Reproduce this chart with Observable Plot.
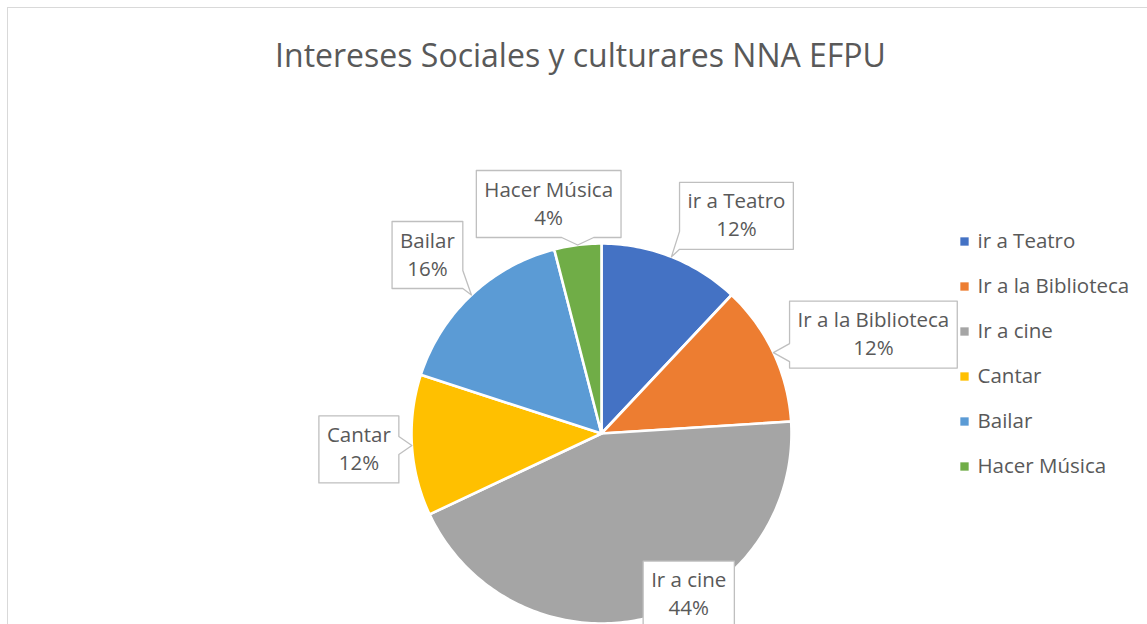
<!DOCTYPE html>
<html><head><meta charset="utf-8">
<script src="https://cdn.jsdelivr.net/npm/d3@7"></script>
<script src="https://cdn.jsdelivr.net/npm/@observablehq/plot@0.6"></script>
<style>
html,body{margin:0;padding:0;background:#fff;overflow:hidden;}
#wrap{position:relative;width:1147px;height:624px;overflow:hidden;}
#frame{position:absolute;left:7px;top:7px;width:1170px;height:650px;border:1.5px solid #d9d9d9;box-sizing:border-box;}
#chart{position:absolute;left:0;top:0;}
</style></head><body>
<div id="wrap"><div id="frame"></div><div id="chart"></div></div>
<script>
// ---- data ----
const categories = ["ir a Teatro", "Ir a la Biblioteca", "Ir a cine", "Cantar", "Bailar", "Hacer Música"];
const values = [12, 12, 44, 12, 16, 4];
const colors = ["#4472C4", "#ED7D31", "#A5A5A5", "#FFC000", "#5B9BD5", "#70AD47"];
const titleText = "Intereses Sociales y culturares NNA EFPU";

// ---- layout ----
const W = 1147, H = 624;
const cx = 601, cy = 433, R = 190;
const font = '"Open Sans", sans-serif';
const labelSize = 20.5, titleSize = 32;
const labelShift = [[65, -41], [100, -18], [40, -23], [-53, 4], [-44, -40], [-29, -41]];
const boxH = 67, pad = 8;
const textColor = "#595959", boxStroke = "#bfbfbf";

const total = d3.sum(values);
const pct = values.map(v => Math.round(v / total * 100) + "%");
const arcs = d3.pie().sort(null).value(d => d)(values);
const pt = (a, r) => [cx + r * Math.sin(a), cy - r * Math.cos(a)];

// slices
const sliceRows = [];
arcs.forEach((a, i) => {
  const name = categories[i];
  sliceRows.push({name, x: cx, y: cy});
  const n = Math.max(2, Math.ceil((a.endAngle - a.startAngle) / (Math.PI / 180)));
  for (let k = 0; k <= n; k++) {
    const ang = a.startAngle + (a.endAngle - a.startAngle) * k / n;
    const [x, y] = pt(ang, R);
    sliceRows.push({name, x, y});
  }
});

// text measuring
const ctx = document.createElement("canvas").getContext("2d");
ctx.font = `${labelSize}px ${font}`;
const tw = s => ctx.measureText(s).width;

// callouts
const calloutRows = [], labelRows = [];
arcs.forEach((a, i) => {
  const mid = (a.startAngle + a.endAngle) / 2;
  const [tx, ty] = pt(mid, R);
  const bx = tx + labelShift[i][0], by = ty + labelShift[i][1];
  const bw = Math.max(tw(categories[i]), tw(pct[i])) + 2 * pad;
  const l = bx - bw / 2, r = bx + bw / 2, t = by - boxH / 2, b = by + boxH / 2;
  const ox = tx > r ? tx - r : tx < l ? l - tx : 0;
  const oy = ty > b ? ty - b : ty < t ? t - ty : 0;
  let side = "none";
  if (ox > 0 || oy > 0) {
    if (oy > ox) side = ty > b ? "bottom" : "top";
    else side = tx > r ? "right" : "left";
  }
  const LH = 32, LV = 18;
  const clamp = (v, lo, hi) => Math.max(lo, Math.min(hi, v));
  const pts = [[l, t]];
  if (side === "top") { const c = clamp(tx, l + LH, r - LH); pts.push([c - LH / 2, t], [tx, ty], [c + LH / 2, t]); }
  pts.push([r, t]);
  if (side === "right") { const c = clamp(ty, t + LV / 2, b - LV / 2); pts.push([r, c - LV / 2], [tx, ty], [r, c + LV / 2]); }
  pts.push([r, b]);
  if (side === "bottom") { const c = clamp(tx, l + LH, r - LH); pts.push([c + LH / 2, b], [tx, ty], [c - LH / 2, b]); }
  pts.push([l, b]);
  if (side === "left") { const c = clamp(ty, t + LV / 2, b - LV / 2); pts.push([l, c + LV / 2], [tx, ty], [l, c - LV / 2]); }
  pts.forEach(([x, y]) => calloutRows.push({id: i, x, y}));
  labelRows.push({x: bx, y: by - 14, text: categories[i]});
  labelRows.push({x: bx, y: by + 14, text: pct[i]});
});

// legend
const legendX = 964, legendTop = 241, legendStep = 45;
const legendRows = categories.map((name, i) => ({name, x: legendX, y: legendTop + i * legendStep}));

const chart = Plot.plot({
  width: W, height: H,
  margin: 0,
  style: {background: "transparent", fontFamily: font},
  x: {domain: [0, W], range: [0, W], axis: null},
  y: {domain: [0, H], range: [0, H], axis: null},
  color: {domain: categories, range: colors},
  marks: [
    Plot.text([titleText], {x: () => 580, y: () => 56, text: d => d, fontSize: titleSize, fill: textColor, fontFamily: font}),
    Plot.line(sliceRows, {x: "x", y: "y", z: "name", fill: "name", stroke: "white", strokeWidth: 2.6, curve: "linear-closed", strokeLinejoin: "round"}),
    Plot.line(calloutRows, {x: "x", y: "y", z: "id", fill: "white", stroke: boxStroke, strokeWidth: 1.3, curve: "linear-closed"}),
    Plot.text(labelRows, {x: "x", y: "y", text: "text", fontSize: labelSize, fill: textColor, fontFamily: font}),
    Plot.dot(legendRows, {x: "x", y: "y", fill: "name", symbol: "square", r: 4.7}),
    Plot.text(legendRows, {x: d => d.x + 13, y: "y", text: "name", textAnchor: "start", fontSize: labelSize, fill: textColor, fontFamily: font})
  ]
});
document.getElementById("chart").appendChild(chart);
</script>
</body></html>
